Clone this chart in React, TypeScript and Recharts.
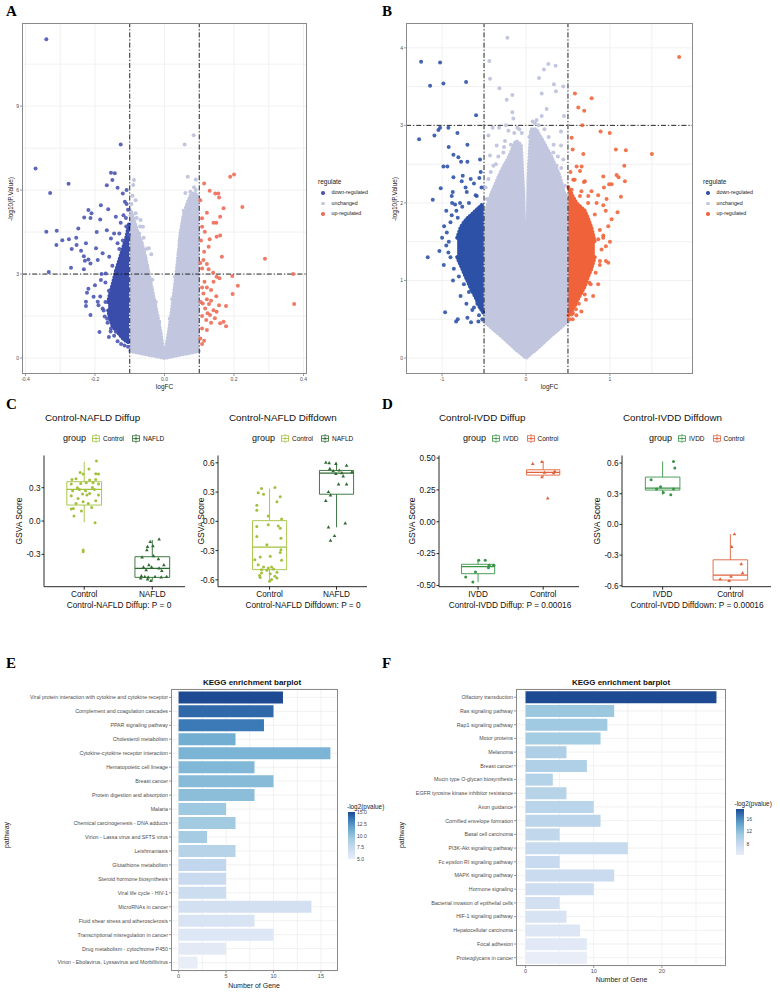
import React from 'react';
import {
  ComposedChart, BarChart, Bar, Area, Scatter, XAxis, YAxis,
  CartesianGrid, ReferenceLine, ReferenceArea, Cell,
} from 'recharts';

const SANS = '"Liberation Sans", Arial, Helvetica, sans-serif';
const SERIF = '"Liberation Serif", "Times New Roman", serif';

// ================= Panel A : volcano (logFC, -log10 p) =================
const aDown: number[][] = [
  [-0.34, 11.39], [-0.371, 6.77], [-0.329, 5.9], [-0.276, 6.23], [-0.34, 4.51], [-0.31, 4.55], [-0.311, 4.04],
  [-0.294, 4.21], [-0.275, 4.24], [-0.254, 4.3], [-0.248, 4.63], [-0.231, 5.02], [-0.219, 5.29], [-0.21, 5.17],
  [-0.213, 5.0], [-0.183, 5.46], [-0.162, 5.32], [-0.185, 4.95], [-0.166, 4.57], [-0.195, 4.5], [-0.267, 3.9],
  [-0.24, 3.83], [-0.253, 4.04], [-0.226, 4.1], [-0.232, 3.64], [-0.219, 3.52], [-0.229, 3.48], [-0.269, 3.23],
  [-0.333, 3.07], [-0.232, 3.17], [-0.213, 3.38], [-0.197, 3.92], [-0.192, 3.5], [-0.154, 4.27], [-0.145, 4.45],
  [-0.13, 4.45], [-0.126, 7.63], [-0.154, 6.62], [-0.143, 6.6], [-0.166, 6.17], [-0.15, 6.36], [-0.135, 6.08],
  [-0.109, 6.0], [-0.12, 5.88], [-0.114, 5.58], [-0.109, 5.5], [-0.14, 5.05], [-0.126, 4.83], [-0.111, 5.0],
  [-0.183, 2.79], [-0.181, 3.0], [-0.219, 2.48], [-0.223, 2.33], [-0.226, 2.01], [-0.226, 1.86], [-0.213, 1.54],
  [-0.204, 2.19], [-0.192, 2.01], [-0.19, 1.89], [-0.178, 1.77], [-0.187, 0.93], [-0.164, 1.26], [-0.172, 1.48],
  [-0.154, 1.06], [-0.14, 0.94], [-0.169, 3.02], [-0.159, 3.62], [-0.178, 3.74], [-0.16, 2.4], [-0.17, 2.0],
  [-0.165, 1.4], [-0.155, 0.95], [-0.145, 0.8], [-0.135, 0.6], [-0.125, 0.5], [-0.115, 0.45], [-0.105, 0.4],
  [-0.13, 3.9], [-0.12, 4.2], [-0.11, 4.7], [-0.15, 3.3], [-0.17, 2.7], [-0.175, 1.7], [-0.105, 5.3],
  [-0.118, 5.1], [-0.102, 4.4], [-0.2, 2.6], [-0.185, 2.2], [-0.16, 0.75], [-0.135, 4.1],
];
const aUp: number[][] = [
  [0.189, 6.48], [0.2, 6.56], [0.114, 6.24], [0.13, 5.98], [0.146, 5.88], [0.155, 5.88], [0.157, 5.74],
  [0.103, 5.64], [0.224, 5.4], [0.17, 5.35], [0.122, 5.19], [0.16, 5.05], [0.108, 4.99], [0.141, 4.83],
  [0.149, 4.83], [0.108, 4.69], [0.116, 4.51], [0.15, 4.33], [0.16, 4.38], [0.13, 4.24], [0.127, 3.98],
  [0.114, 3.8], [0.165, 3.62], [0.289, 3.55], [0.112, 3.5], [0.122, 3.36], [0.108, 3.2], [0.127, 3.17],
  [0.14, 3.05], [0.37, 3.0], [0.15, 2.9], [0.158, 2.85], [0.195, 2.93], [0.115, 2.73], [0.141, 2.73],
  [0.211, 2.58], [0.108, 2.52], [0.122, 2.52], [0.134, 2.43], [0.112, 2.31], [0.196, 2.29], [0.149, 2.21],
  [0.122, 2.1], [0.134, 2.05], [0.11, 1.95], [0.128, 1.93], [0.373, 1.93], [0.157, 1.89], [0.177, 1.86],
  [0.117, 1.77], [0.141, 1.71], [0.15, 1.65], [0.124, 1.6], [0.108, 1.5], [0.131, 1.54], [0.145, 1.42],
  [0.12, 1.36], [0.134, 1.26], [0.16, 1.24], [0.17, 1.3], [0.177, 1.14], [0.108, 1.06], [0.122, 1.0],
  [0.103, 0.7], [0.114, 0.62], [0.108, 0.5], [0.104, 2.0], [0.105, 4.2], [0.103, 3.4],
];
const aFlat: number[][] = [
  [0.084, 7.96], [0.058, 7.63], [0.067, 6.48], [0.09, 6.38], [-0.088, 6.36], [-0.09, 6.18], [0.074, 5.94],
  [0.079, 5.76], [-0.083, 5.64], [-0.069, 4.93], [-0.062, 4.69], [-0.045, 3.92], [-0.038, 3.71], [-0.056, 3.62],
  [0.055, 5.26], [0.053, 4.93], [0.049, 4.57], [-0.083, 5.17], [-0.073, 4.45], [0.044, 4.21], [0.041, 3.74],
  [0.098, 5.64], [0.093, 5.17], [-0.095, 5.5], [-0.092, 5.8], [0.09, 6.0], [0.085, 6.1], [0.06, 5.9],
  [-0.098, 5.1], [-0.05, 3.3], [0.07, 5.3], [-0.08, 5.0], [-0.07, 4.7], [-0.06, 4.3], [-0.052, 3.9],
  [-0.035, 2.8], [0.03, 2.9], [0.05, 4.0], [0.062, 5.2], [0.078, 5.6], [0.088, 5.5], [-0.025, 2.0],
  [0.022, 2.1], [-0.015, 1.3], [0.015, 1.4],
];
// dense "unchanged" cloud outline: [logFC, lower, upper]
const aCloud: number[][] = [
  [-0.1, 0.25, 5.3], [-0.095, 0.24, 5.2], [-0.085, 0.21, 4.8], [-0.075, 0.19, 4.4], [-0.065, 0.16, 4.1],
  [-0.055, 0.14, 3.6], [-0.045, 0.11, 3.0], [-0.03, 0.08, 2.1], [-0.02, 0.05, 1.5], [-0.011, 0.03, 0.9],
  [-0.005, 0.01, 0.35], [0, 0, 0], [0.005, 0.01, 0.4], [0.012, 0.03, 0.9], [0.02, 0.05, 1.6], [0.027, 0.07, 2.3],
  [0.034, 0.09, 3.0], [0.04, 0.1, 3.7], [0.046, 0.12, 4.45], [0.055, 0.14, 5.1], [0.065, 0.16, 5.5],
  [0.075, 0.19, 5.8], [0.085, 0.21, 5.9], [0.095, 0.24, 5.8], [0.1, 0.25, 5.6],
];
const aDownBand: number[][] = [
  [-0.162, 1.7, 2.0], [-0.157, 1.4, 2.3], [-0.15, 1.15, 2.6], [-0.14, 1.0, 3.1], [-0.13, 0.85, 3.5],
  [-0.12, 0.7, 3.9], [-0.11, 0.6, 4.3], [-0.102, 0.55, 4.8],
];
const aUpBand: number[][] = [];

// ================= Panel B : volcano =================
const bDown: number[][] = [
  [-1.25, 3.82], [-1.024, 3.81], [-1.143, 3.51], [-0.984, 3.54], [-0.714, 3.56], [-0.595, 3.13], [-1.274, 2.82],
  [-1.091, 2.87], [-1.044, 2.94], [-1.024, 2.97], [-0.925, 2.97], [-0.817, 2.9], [-0.698, 2.75], [-0.921, 2.72],
  [-0.865, 2.62], [-0.806, 2.59], [-0.774, 2.53], [-0.698, 2.53], [-0.548, 2.56], [-0.984, 2.47], [-0.937, 2.47],
  [-0.865, 2.33], [-0.754, 2.35], [-0.659, 2.31], [-0.556, 2.32], [-0.766, 2.28], [-1.016, 2.19], [-0.873, 2.14],
  [-0.885, 2.09], [-0.706, 2.14], [-1.111, 2.04], [-0.587, 2.09], [-0.845, 1.98], [-0.786, 2.0], [-0.885, 1.84],
  [-0.813, 1.81], [-0.976, 1.7], [-0.944, 1.62], [-1.032, 1.38], [-1.171, 1.3], [-0.925, 1.36], [-0.964, 0.59],
  [-0.833, 0.47], [-0.813, 0.5], [-0.698, 0.52], [-0.655, 0.46], [-0.567, 0.47], [-0.52, 0.5], [-0.56, 0.55],
  [-0.62, 0.65], [-0.68, 0.85], [-0.74, 0.95], [-0.8, 1.05], [-0.86, 1.15], [-0.9, 1.3], [-0.92, 1.5],
  [-0.9, 1.75], [-0.83, 1.9], [-0.76, 1.95], [-0.68, 2.0], [-0.6, 2.1], [-0.53, 2.2], [-0.95, 1.45],
  [-0.87, 1.0], [-0.78, 0.8], [-0.71, 0.7], [-0.64, 0.62], [-0.58, 0.7], [-0.95, 1.9], [-0.88, 2.0],
  [-0.72, 2.2], [-0.62, 2.25], [-0.54, 2.4], [-1.0, 1.55], [-0.98, 1.2],
];
const bUp: number[][] = [
  [1.825, 3.88], [0.583, 3.41], [0.782, 3.35], [0.623, 3.23], [0.694, 3.19], [0.671, 3.0], [0.889, 2.92],
  [0.998, 2.9], [0.544, 2.84], [0.556, 2.69], [1.071, 2.69], [1.19, 2.68], [1.5, 2.63], [0.683, 2.63],
  [0.603, 2.47], [0.643, 2.41], [0.663, 2.47], [1.171, 2.48], [0.921, 2.34], [1.079, 2.36], [1.103, 2.33],
  [1.179, 2.28], [0.563, 2.3], [0.69, 2.27], [0.702, 2.28], [1.02, 2.24], [0.99, 2.24], [0.929, 2.2],
  [0.544, 2.17], [0.742, 2.09], [0.643, 2.09], [1.131, 2.08], [0.96, 2.05], [0.841, 2.0], [1.091, 1.88],
  [0.921, 1.97], [1.02, 1.79], [0.98, 1.7], [0.952, 1.44], [0.881, 1.25], [0.952, 1.25], [0.98, 1.23],
  [0.754, 0.97], [0.714, 0.75], [0.583, 0.68], [0.544, 0.56], [0.595, 0.63], [0.556, 0.5], [0.921, 1.58],
  [0.861, 1.53], [0.52, 0.5], [0.56, 0.58], [0.63, 0.7], [0.7, 0.82], [0.77, 0.95], [0.83, 1.1], [0.88, 1.2],
  [0.9, 1.4], [0.88, 1.65], [0.82, 1.85], [0.74, 2.0], [0.66, 2.15], [0.58, 2.3], [0.53, 2.4], [0.92, 1.55],
  [0.86, 0.95], [0.8, 0.8], [0.66, 0.6], [0.6, 0.55], [0.78, 2.15], [0.86, 2.1], [0.95, 1.9], [1.0, 1.5],
];
const bFlat: number[][] = [
  [-0.222, 4.13], [-0.437, 3.83], [-0.429, 3.6], [-0.317, 3.48], [-0.23, 3.33], [-0.163, 3.39], [0.266, 3.79],
  [0.353, 3.77], [0.214, 3.72], [0.155, 3.61], [0.187, 3.41], [0.333, 3.53], [0.444, 3.5], [0.357, 3.44],
  [0.246, 3.21], [-0.163, 3.17], [-0.151, 3.09], [0.452, 3.12], [0.187, 3.12], [0.127, 3.07], [0.107, 3.03],
  [-0.397, 2.97], [-0.321, 2.97], [-0.238, 3.0], [-0.103, 2.97], [0.417, 2.92], [-0.448, 2.87], [-0.21, 2.93],
  [-0.349, 2.74], [-0.262, 2.72], [0.417, 2.74], [0.325, 2.65], [-0.429, 2.61], [-0.389, 2.48], [0.365, 2.48],
  [0.444, 2.56], [-0.448, 2.31], [-0.468, 2.05], [0.464, 2.22], [0.437, 2.0], [0.464, 1.88], [-0.468, 1.88],
  [-0.48, 2.2], [-0.42, 2.4], [-0.36, 2.5], [-0.33, 2.6], [-0.27, 2.65], [-0.18, 2.75], [-0.14, 2.9],
  [-0.08, 2.95], [-0.05, 2.9], [0.04, 2.85], [0.08, 3.05], [0.15, 3.0], [0.22, 2.95], [0.27, 2.85],
  [0.33, 2.75], [0.38, 2.6], [0.42, 2.45], [0.48, 2.1], [-0.25, 2.8], [0.1, 2.7], [-0.1, 2.6],
];
const bCloud: number[][] = [
  [-0.51, 0.48, 1.7], [-0.5, 0.47, 1.8], [-0.45, 0.43, 2.0], [-0.4, 0.38, 2.15], [-0.3, 0.29, 2.4],
  [-0.2, 0.19, 2.6], [-0.12, 0.11, 2.8], [-0.06, 0.06, 2.75], [-0.03, 0.03, 2.1], [-0.012, 0.012, 1.2],
  [0, 0, 0.8], [0.012, 0.012, 1.4], [0.03, 0.03, 2.4], [0.06, 0.06, 2.95], [0.12, 0.11, 2.95], [0.2, 0.19, 2.8],
  [0.3, 0.29, 2.6], [0.4, 0.38, 2.35], [0.45, 0.43, 2.15], [0.5, 0.47, 1.9], [0.51, 0.48, 1.8],
];
const bDownBand: number[][] = [
  [-0.82, 1.3, 1.55], [-0.78, 1.2, 1.68], [-0.74, 1.1, 1.75], [-0.7, 1.0, 1.8], [-0.65, 0.88, 1.85],
  [-0.6, 0.78, 1.9], [-0.55, 0.65, 1.95], [-0.505, 0.58, 2.0],
];
const bUpBand: number[][] = [
  [0.505, 0.55, 2.2], [0.55, 0.62, 2.1], [0.6, 0.72, 2.0], [0.65, 0.82, 1.95], [0.7, 0.92, 1.9],
  [0.74, 1.05, 1.8], [0.78, 1.15, 1.68], [0.82, 1.3, 1.5],
];
const regulateLabels = ['down-regulated', 'unchanged', 'up-regulated'];

// ================= Panels C / D : GSVA boxplots =================
// stats rows: [lower whisker, Q1, median, Q3, upper whisker]
const cGroups = ['Control', 'NAFLD'];
const cUpStats: number[][] = [[-0.009, 0.144, 0.285, 0.354, 0.534], [-0.537, -0.507, -0.426, -0.321, -0.171]];
const cUpCtrl: number[][] = [
  [1.18, 0.54], [1.07, 0.468], [0.94, 0.438], [0.985, 0.423], [1.17, 0.426], [1.21, 0.423], [0.82, 0.375],
  [0.88, 0.381], [1.08, 0.369], [1.17, 0.375], [0.81, 0.333], [0.95, 0.339], [1.03, 0.345], [1.13, 0.345],
  [1.21, 0.333], [0.9, 0.3], [0.93, 0.285], [1.12, 0.303], [0.83, 0.273], [1.02, 0.273], [1.15, 0.285],
  [1.08, 0.249], [0.975, 0.243], [0.81, 0.228], [1.04, 0.234], [1.21, 0.234], [0.91, 0.204], [1.17, 0.183],
  [0.985, 0.174], [0.88, 0.159], [1.06, 0.159], [0.84, 0.114], [0.81, 0.108], [1.11, 0.123], [0.96, 0.09],
  [0.85, 0.045], [1.16, -0.015], [0.985, -0.261], [0.985, -0.276],
];
const cUpNafld: number[][] = [
  [2.1, -0.165], [1.97, -0.186], [1.93, -0.231], [1.92, -0.261], [2.01, -0.225], [1.85, -0.327], [2.02, -0.315],
  [2.09, -0.342], [1.95, -0.396], [2.17, -0.396], [1.87, -0.417], [1.99, -0.417], [2.1, -0.426], [1.91, -0.441],
  [2.14, -0.447], [1.84, -0.495], [1.89, -0.501], [1.94, -0.507], [2.04, -0.501], [2.13, -0.507], [2.21, -0.501],
  [1.93, -0.525], [1.98, -0.537], [1.83, -0.516],
];
const cDownStats: number[][] = [[-0.614, -0.495, -0.264, 0.007, 0.336], [-0.061, 0.278, 0.495, 0.522, 0.603]];
const cDownCtrl: number[][] = [
  [0.88, 0.336], [1.08, 0.346], [0.83, 0.292], [0.91, 0.278], [1.16, 0.251], [1.11, 0.2], [0.81, 0.166],
  [0.81, 0.115], [0.98, 0.054], [1.18, 0.024], [0.81, -0.054], [0.98, -0.034], [1.13, -0.047], [1.16, -0.071],
  [0.81, -0.156], [1.17, -0.173], [0.96, -0.241], [1.17, -0.292], [1.16, -0.319], [0.78, -0.393], [0.86, -0.366],
  [1.01, -0.359], [1.18, -0.4], [0.83, -0.444], [0.91, -0.468], [0.98, -0.478], [1.03, -0.468], [1.06, -0.488],
  [0.88, -0.495], [0.96, -0.502], [1.11, -0.522], [1.01, -0.536], [0.88, -0.529], [0.85, -0.556], [1.08, -0.563],
  [1.11, -0.58], [1.03, -0.597], [0.86, -0.576], [1.0, -0.614],
];
const cDownNafld: number[][] = [
  [1.84, 0.603], [1.89, 0.597], [1.99, 0.59], [2.15, 0.573], [1.9, 0.539], [2.04, 0.522], [1.95, 0.515],
  [2.08, 0.495], [2.23, 0.505], [1.99, 0.488], [2.1, 0.461], [2.03, 0.38], [2.15, 0.38], [1.88, 0.302],
  [1.91, 0.268], [1.84, 0.21], [2.13, -0.02], [1.88, -0.061], [1.97, -0.149], [1.91, -0.197],
];
const dGroups = ['IVDD', 'Control'];
const dUpStats: number[][] = [[-0.474, -0.408, -0.353, -0.334, -0.303], [0.35, 0.366, 0.387, 0.408, 0.474]];
const dUpIvdd: number[][] = [
  [1.01, -0.303], [1.11, -0.303], [1.17, -0.342], [1.16, -0.361], [1.24, -0.342], [0.96, -0.395], [0.81, -0.434],
  [0.92, -0.474],
];
const dUpCtrl: number[][] = [[1.84, 0.455], [1.98, 0.471], [2.02, 0.387], [2.16, 0.382], [1.98, 0.35], [2.18, 0.395], [2.07, 0.184]];
const dDownStats: number[][] = [[0.29, 0.336, 0.355, 0.463, 0.616], [-0.551, -0.544, -0.496, -0.346, -0.095]];
const dDownIvdd: number[][] = [[1.16, 0.616], [1.18, 0.551], [0.83, 0.437], [0.97, 0.368], [0.91, 0.346], [1.01, 0.313], [1.12, 0.29], [1.16, 0.346]];
const dDownCtrl: number[][] = [[2.06, -0.095], [2.02, -0.218], [2.16, -0.388], [2.18, -0.476], [2.01, -0.509], [1.85, -0.535], [1.98, -0.551]];

// ================= Panels E / F : KEGG barplots =================
const ePathways = [
  'Viral protein interaction with cytokine and cytokine receptor', 'Complement and coagulation cascades',
  'PPAR signaling pathway', 'Cholesterol metabolism', 'Cytokine-cytokine receptor interaction',
  'Hematopoietic cell lineage', 'Breast cancer', 'Protein digestion and absorption', 'Malaria',
  'Chemical carcinogenesis - DNA adducts', 'Virion - Lassa virus and SFTS virus', 'Leishmaniasis',
  'Glutathione metabolism', 'Steroid hormone biosynthesis', 'Viral life cycle - HIV-1', 'MicroRNAs in cancer',
  'Fluid shear stress and atherosclerosis', 'Transcriptional misregulation in cancer',
  'Drug metabolism - cytochrome P450', 'Virion - Ebolavirus, Lyssavirus and Morbillivirus',
];
const eCounts = [11, 10, 9, 6, 16, 8, 10, 8, 5, 6, 3, 6, 5, 5, 5, 14, 8, 10, 5, 2];
const eLog2p = [15.0, 14.0, 13.4, 11.2, 10.8, 10.6, 10.4, 10.2, 9.5, 9.3, 9.1, 8.3, 7.7, 7.2, 7.0, 6.6, 6.2, 5.8, 5.4, 5.0];
const eLegendTicks = [5, 7.5, 10, 12.5, 15];

const fPathways = [
  'Olfactory transduction', 'Ras signaling pathway', 'Rap1 signaling pathway', 'Motor proteins', 'Melanoma',
  'Breast cancer', 'Mucin type O-glycan biosynthesis', 'EGFR tyrosine kinase inhibitor resistance',
  'Axon guidance', 'Cornified envelope formation', 'Basal cell carcinoma', 'PI3K-Akt signaling pathway',
  'Fc epsilon RI signaling pathway', 'MAPK signaling pathway', 'Hormone signaling',
  'Bacterial invasion of epithelial cells', 'HIF-1 signaling pathway', 'Hepatocellular carcinoma',
  'Focal adhesion', 'Proteoglycans in cancer',
];
const fCounts = [28, 13, 12, 11, 6, 9, 4, 6, 10, 11, 5, 15, 5, 13, 10, 5, 6, 8, 9, 9];
const fLog2p = [19.1, 11.2, 10.9, 10.6, 9.9, 9.8, 9.5, 9.3, 9.0, 8.9, 8.6, 8.0, 7.9, 7.7, 7.3, 6.8, 6.3, 5.7, 5.2, 4.5];
const fLegendTicks = [8, 12, 16];

// ================= helpers =================
const GRAD: [number, number[]][] = [
  [0, [232, 237, 248]], [0.25, [198, 217, 238]], [0.45, [158, 201, 224]],
  [0.65, [106, 169, 207]], [0.85, [58, 120, 182]], [1, [29, 74, 147]],
];
function gradColor(t: number) {
  const u = Math.max(0, Math.min(1, t));
  for (let i = 1; i < GRAD.length; i++) {
    if (u <= GRAD[i][0]) {
      const [t0, c0] = GRAD[i - 1];
      const [t1, c1] = GRAD[i];
      const k = (u - t0) / (t1 - t0);
      const c = c0.map((v, j) => Math.round(v + (c1[j] - v) * k));
      return `rgb(${c[0]},${c[1]},${c[2]})`;
    }
  }
  return 'rgb(29,74,147)';
}
const gradCss = `linear-gradient(to top, ${GRAD.map(([t, c]) => `rgb(${c.join(',')}) ${t * 100}%`).join(', ')})`;

const toPts = (a: number[][]) => a.map(([x, y]) => ({ x, y }));
const toBand = (a: number[][]) => a.map(([x, lo, hi]) => ({ x, r: [lo, hi] }));

function Txt(props: any) {
  const { x, y, size, anchor = 'start', weight = 400, color = '#000', rotate = 0, family = SANS, children } = props;
  const tx = anchor === 'start' ? '0' : anchor === 'middle' ? '-50%' : '-100%';
  return (
    <div
      style={{
        position: 'absolute', left: x, top: y, fontSize: size, fontFamily: family, fontWeight: weight, color,
        whiteSpace: 'nowrap', lineHeight: 1, transform: `translate(${tx}, -50%)${rotate ? ` rotate(${rotate}deg)` : ''}`,
      }}
    >
      {children}
    </div>
  );
}

const dotShape = (color: string, r: number, op: number) => (p: any) =>
  p.cx == null ? <g /> : <circle cx={p.cx} cy={p.cy} r={r} fill={color} fillOpacity={op} />;
const triShape = (color: string) => (p: any) =>
  p.cx == null ? <g /> : (
    <path d={`M${p.cx},${p.cy - 2} L${p.cx + 1.8},${p.cy + 1.2} L${p.cx - 1.8},${p.cy + 1.2} Z`} fill={color} />
  );

// ================= Volcano =================
function Volcano(p: any) {
  const tickStyle = { fontSize: 5, fill: '#4d4d4d', fontFamily: SANS };
  const dash = '5 2 1.2 2';
  // scalloped outline so the dense cloud edges look like overlapping points
  const edge = { strokeWidth: 4, strokeDasharray: '0.01 3.2', strokeLinecap: 'round' as const };
  return (
    <div style={{ position: 'absolute', left: p.left, top: 0 }}>
      <ComposedChart width={p.width} height={395} margin={{ top: 23, right: 3, left: 0, bottom: 0 }}>
        <CartesianGrid stroke="#ebebeb" strokeWidth={0.7} verticalValues={p.xGrid} horizontalValues={p.yGrid} />
        <XAxis type="number" dataKey="x" domain={p.xDomain} allowDataOverflow ticks={p.xTicks} interval={0}
          tickFormatter={p.xFmt} height={21} axisLine={false} tickLine={{ stroke: '#555', strokeWidth: 0.6 }}
          tickSize={2} tickMargin={1} tick={tickStyle} />
        <YAxis type="number" dataKey="y" domain={p.yDomain} allowDataOverflow ticks={p.yTicks} interval={0}
          width={p.yAxisW} axisLine={false} tickLine={{ stroke: '#555', strokeWidth: 0.6 }}
          tickSize={2} tickMargin={1} tick={tickStyle} />
        <Area data={toBand(p.cloud)} dataKey="r" type="linear" stroke={p.col.flat} {...edge} fill={p.col.flat}
          fillOpacity={1} isAnimationActive={false} dot={false} activeDot={false} />
        {p.downBand.length > 0 && (
          <Area data={toBand(p.downBand)} dataKey="r" type="linear" stroke={p.col.downDense} {...edge}
            fill={p.col.downDense} fillOpacity={1} isAnimationActive={false} dot={false} activeDot={false} />
        )}
        {p.upBand.length > 0 && (
          <Area data={toBand(p.upBand)} dataKey="r" type="linear" stroke={p.col.upDense} {...edge}
            fill={p.col.upDense} fillOpacity={1} isAnimationActive={false} dot={false} activeDot={false} />
        )}
        <Scatter data={toPts(p.flat)} shape={dotShape(p.col.flat, 2, 1)} isAnimationActive={false} />
        <Scatter data={toPts(p.down)} shape={dotShape(p.col.down, 2, 0.9)} isAnimationActive={false} />
        <Scatter data={toPts(p.up)} shape={dotShape(p.col.up, 2, 0.9)} isAnimationActive={false} />
        {p.vLines.map((v: number) => (
          <ReferenceLine key={v} x={v} stroke="#111" strokeWidth={0.9} strokeDasharray={dash} />
        ))}
        <ReferenceLine y={p.hLine} stroke="#111" strokeWidth={0.9} strokeDasharray={dash} />
      </ComposedChart>
    </div>
  );
}

function VolcanoDecor(p: any) {
  const cols = [p.col.down, p.col.flat, p.col.up];
  return (
    <>
      <div style={{ position: 'absolute', left: p.plotLeft, top: 23, width: p.plotRight - p.plotLeft, height: 351,
        border: '1px solid #8a8a8a', boxSizing: 'border-box' }} />
      <Txt x={(p.plotLeft + p.plotRight) / 2} y={387} size={6.5} anchor="middle" color="#222">logFC</Txt>
      <Txt x={p.yLabelX} y={198.5} size={6.5} anchor="middle" rotate={-90} color="#222">-log10(P.Value)</Txt>
      <Txt x={p.legX} y={182} size={6.5} color="#222">regulate</Txt>
      {regulateLabels.map((lab, i) => (
        <React.Fragment key={lab}>
          <div style={{ position: 'absolute', left: p.legX + 3, top: 191 + i * 10.7, width: 3.6, height: 3.6,
            borderRadius: '50%', background: cols[i] }} />
          <Txt x={p.legX + 13.5} y={192.8 + i * 10.7} size={5.3} color="#222">{lab}</Txt>
        </React.Fragment>
      ))}
    </>
  );
}

// ================= Boxplot =================
const BOX_HALF = 0.255;
function BoxPlot(p: any) {
  const yAxisW = 40;
  const w = yAxisW + (p.plotRight - p.plotLeft) + 5;
  const tick = { fontSize: 8.2, fill: '#111', fontFamily: SANS };
  const axisStyle = { stroke: '#111', strokeWidth: 0.9 };
  return (
    <div style={{ position: 'absolute', left: p.plotLeft - yAxisW, top: 440 }}>
      <ComposedChart width={w} height={177} margin={{ top: 15.5, right: 5, left: 0, bottom: 0 }}>
        <XAxis type="number" dataKey="x" domain={p.xDomain} allowDataOverflow ticks={[1, 2]} interval={0}
          tickFormatter={(v: number) => p.groups[Math.round(v) - 1]} height={30.3} axisLine={axisStyle}
          tickLine={axisStyle} tickSize={3} tickMargin={1} tick={tick} />
        <YAxis type="number" dataKey="y" domain={p.yDomain} allowDataOverflow ticks={p.yTicks} interval={0}
          tickFormatter={(v: number) => v.toFixed(p.yDigits)} width={yAxisW} axisLine={axisStyle}
          tickLine={axisStyle} tickSize={2.5} tickMargin={1} tick={tick} />
        {p.stats.map((s: number[], i: number) => {
          const pos = i + 1;
          const c = p.colors[i];
          return [
            <ReferenceArea key={`b${i}`} x1={pos - BOX_HALF} x2={pos + BOX_HALF} y1={s[1]} y2={s[3]}
              fill="#ffffff" fillOpacity={0} stroke={c} strokeWidth={0.9} ifOverflow="visible" />,
            <ReferenceLine key={`m${i}`} segment={[{ x: pos - BOX_HALF, y: s[2] }, { x: pos + BOX_HALF, y: s[2] }]}
              stroke={c} strokeWidth={1.2} ifOverflow="visible" />,
            <ReferenceLine key={`u${i}`} segment={[{ x: pos, y: s[3] }, { x: pos, y: s[4] }]}
              stroke={c} strokeWidth={0.9} ifOverflow="visible" />,
            <ReferenceLine key={`l${i}`} segment={[{ x: pos, y: s[0] }, { x: pos, y: s[1] }]}
              stroke={c} strokeWidth={0.9} ifOverflow="visible" />,
          ];
        })}
        {p.pts.map((arr: number[][], i: number) => (
          <Scatter key={`s${i}`} data={toPts(arr)} isAnimationActive={false}
            shape={p.shapes[i] === 'tri' ? triShape(p.colors[i]) : dotShape(p.colors[i], 1.5, 1)} />
        ))}
      </ComposedChart>
    </div>
  );
}

function LegendKey({ color, shape }: any) {
  return (
    <svg width={8} height={9} style={{ display: 'block' }}>
      <line x1={4} y1={0} x2={4} y2={9} stroke={color} strokeWidth={0.8} />
      <rect x={0.5} y={1.8} width={7} height={5.4} fill="#fff" stroke={color} strokeWidth={0.8} />
      <line x1={0.5} y1={4.5} x2={7.5} y2={4.5} stroke={color} strokeWidth={0.8} />
      {shape === 'tri'
        ? <path d="M4,2.6 L5.5,5.4 L2.5,5.4 Z" fill={color} />
        : <circle cx={4} cy={4.5} r={1.1} fill={color} />}
    </svg>
  );
}

function BoxDecor(p: any) {
  return (
    <>
      <Txt x={p.titleX} y={418} size={9.8} color="#111">{p.title}</Txt>
      <div style={{ position: 'absolute', left: p.legX, top: 438, transform: 'translateY(-50%)', display: 'flex',
        alignItems: 'center', fontFamily: SANS, whiteSpace: 'nowrap', color: '#111' }}>
        <span style={{ fontSize: 9, marginRight: 6 }}>group</span>
        {p.groups.map((g: string, i: number) => (
          <React.Fragment key={g}>
            <LegendKey color={p.colors[i]} shape={p.shapes[i]} />
            <span style={{ fontSize: 6.5, marginLeft: 3, marginRight: 8 }}>{g}</span>
          </React.Fragment>
        ))}
      </div>
      <Txt x={p.yLabelX} y={521} size={8.5} anchor="middle" rotate={-90} color="#111">GSVA Score</Txt>
      <Txt x={p.captionX} y={605} size={8.3} anchor="middle" color="#111">{p.caption}</Txt>
    </>
  );
}

// ================= KEGG barplot =================
const PathTick = (props: any) => {
  const { x, y, payload } = props;
  return (
    <text x={x} y={y} dy="0.35em" textAnchor="end" fontSize={5.3} fill="#4d4d4d" fontFamily={SANS}>
      {payload.value}
    </text>
  );
};

function Kegg(p: any) {
  const data = p.names.map((n: string, i: number) => ({ name: n, count: p.counts[i], score: p.scores[i] }));
  const lo = Math.min(...p.scores);
  const hi = Math.max(...p.scores);
  const H = p.plotBottom - 689;
  const cbH = p.cbBottom - p.cbTop;
  return (
    <>
      <div style={{ position: 'absolute', left: p.left, top: 680 }}>
        <BarChart layout="vertical" width={p.plotRight - p.left + 7} height={9 + H + 19} data={data}
          margin={{ top: 9, right: 7, left: 0, bottom: 1 }} barCategoryGap="7%">
          <CartesianGrid stroke="#ebebeb" strokeWidth={0.7} verticalValues={p.xGrid} />
          <XAxis type="number" domain={p.xDomain} allowDataOverflow ticks={p.xTicks} interval={0} height={18}
            axisLine={false} tickLine={{ stroke: '#555', strokeWidth: 0.6 }} tickSize={2} tickMargin={1}
            tick={{ fontSize: 5.5, fill: '#4d4d4d', fontFamily: SANS }} />
          <YAxis type="category" dataKey="name" width={p.plotLeft - p.left} padding={{ top: 1.4, bottom: 1.4 }}
            axisLine={false} tickLine={{ stroke: '#555', strokeWidth: 0.6 }} tickSize={2} tickMargin={1}
            interval={0} tick={PathTick} />
          <Bar dataKey="count" isAnimationActive={false}>
            {data.map((d: any, i: number) => <Cell key={i} fill={gradColor((d.score - lo) / (hi - lo))} />)}
          </Bar>
        </BarChart>
      </div>
      <div style={{ position: 'absolute', left: p.plotLeft, top: 689, width: p.plotRight - p.plotLeft, height: H,
        border: '1px solid #8a8a8a', boxSizing: 'border-box' }} />
      <Txt x={p.titleX} y={683} size={8} weight={700} anchor="middle" color="#111">KEGG enrichment barplot</Txt>
      <Txt x={p.xLabelX} y={p.xLabelY} size={7} anchor="middle" color="#222">Number of Gene</Txt>
      <Txt x={p.yLabelX} y={835} size={7} anchor="middle" rotate={-90} color="#222">pathway</Txt>
      <Txt x={p.cbLeft - 1} y={p.cbTop - 5} size={6.4} color="#222">-log2(pvalue)</Txt>
      <div style={{ position: 'absolute', left: p.cbLeft, top: p.cbTop, width: p.cbW, height: cbH, background: gradCss }} />
      {p.legendTicks.map((v: number) => (
        <Txt key={v} x={p.cbLeft + p.cbW + 2.5} y={p.cbBottom - ((v - lo) / (hi - lo)) * cbH} size={5}
          color="#444">{p.tickFmt(v)}</Txt>
      ))}
    </>
  );
}

// ================= App =================
export default function App() {
  const volA = { down: '#4a56b4', up: '#ee6c57', flat: '#c2c7df', downDense: '#3a4dab', upDense: '#ec5f48' };
  const volB = { down: '#2f54a8', up: '#f1663c', flat: '#c2c7df', downDense: '#2c51a7', upDense: '#f0623a' };
  const cCols = ['#a2c13c', '#2e6b30'];
  const dCols = ['#3a9447', '#e0623c'];
  return (
    <div style={{ position: 'absolute', left: 0, top: 0, width: 780, height: 992, background: '#fff', overflow: 'hidden' }}>
      {/* Panel labels */}
      <Txt x={6} y={11} size={15} weight={700} family={SERIF}>A</Txt>
      <Txt x={382} y={11} size={15} weight={700} family={SERIF}>B</Txt>
      <Txt x={6} y={404} size={15} weight={700} family={SERIF}>C</Txt>
      <Txt x={382} y={404} size={15} weight={700} family={SERIF}>D</Txt>
      <Txt x={6} y={663} size={15} weight={700} family={SERIF}>E</Txt>
      <Txt x={382} y={663} size={15} weight={700} family={SERIF}>F</Txt>

      {/* A */}
      <Volcano left={0} width={310} yAxisW={22} xDomain={[-0.41, 0.41]} yDomain={[-0.57, 11.97]}
        xTicks={[-0.4, -0.2, 0, 0.2, 0.4]} yTicks={[0, 3, 6, 9]}
        xGrid={[-0.4, -0.3, -0.2, -0.1, 0, 0.1, 0.2, 0.3, 0.4]} yGrid={[0, 1.5, 3, 4.5, 6, 7.5, 9, 10.5]}
        vLines={[-0.1, 0.1]} hLine={3} xFmt={(v: number) => v.toFixed(1)}
        cloud={aCloud} downBand={aDownBand} upBand={aUpBand} down={aDown} up={aUp} flat={aFlat} col={volA} />
      <VolcanoDecor plotLeft={22} plotRight={307} yLabelX={11} legX={318} col={volA} />

      {/* B */}
      <Volcano left={386} width={310} yAxisW={20} xDomain={[-1.43, 1.99]} yDomain={[-0.206, 4.32]}
        xTicks={[-1, 0, 1]} yTicks={[0, 1, 2, 3, 4]}
        xGrid={[-1, -0.5, 0, 0.5, 1, 1.5]} yGrid={[0, 0.5, 1, 1.5, 2, 2.5, 3, 3.5, 4]}
        vLines={[-0.5, 0.5]} hLine={3} xFmt={(v: number) => String(v)}
        cloud={bCloud} downBand={bDownBand} upBand={bUpBand} down={bDown} up={bUp} flat={bFlat} col={volB} />
      <VolcanoDecor plotLeft={406} plotRight={693} yLabelX={395} legX={703} col={volB} />

      {/* C */}
      <BoxPlot plotLeft={44} plotRight={185} xDomain={[0.41, 2.48]} yDomain={[-0.591, 0.59]} yTicks={[-0.3, 0, 0.3]}
        yDigits={1} groups={cGroups} stats={cUpStats} pts={[cUpCtrl, cUpNafld]} colors={cCols} shapes={['dot', 'tri']} />
      <BoxDecor title="Control-NAFLD Diffup" titleX={45} legX={63} groups={cGroups} colors={cCols} shapes={['dot', 'tri']}
        yLabelX={19} captionX={119} caption="Control-NAFLD Diffup: P = 0" />
      <BoxPlot plotLeft={218} plotRight={367} xDomain={[0.23, 2.455]} yDomain={[-0.67, 0.675]}
        yTicks={[-0.6, -0.3, 0, 0.3, 0.6]} yDigits={1} groups={cGroups} stats={cDownStats}
        pts={[cDownCtrl, cDownNafld]} colors={cCols} shapes={['dot', 'tri']} />
      <BoxDecor title="Control-NAFLD Diffdown" titleX={229} legX={252} groups={cGroups} colors={cCols}
        shapes={['dot', 'tri']} yLabelX={201} captionX={303} caption="Control-NAFLD Diffdown: P = 0" />

      {/* D */}
      <BoxPlot plotLeft={439} plotRight={579} xDomain={[0.4, 2.55]} yDomain={[-0.51, 0.52]}
        yTicks={[-0.5, -0.25, 0, 0.25, 0.5]} yDigits={2} groups={dGroups} stats={dUpStats}
        pts={[dUpIvdd, dUpCtrl]} colors={dCols} shapes={['dot', 'tri']} />
      <BoxDecor title="Control-IVDD Diffup" titleX={439} legX={463} groups={dGroups} colors={dCols}
        shapes={['dot', 'tri']} yLabelX={412} captionX={510} caption="Control-IVDD Diffup: P = 0.00016" />
      <BoxPlot plotLeft={622} plotRight={771} xDomain={[0.4, 2.6]} yDomain={[-0.609, 0.674]}
        yTicks={[-0.6, -0.3, 0, 0.3, 0.6]} yDigits={1} groups={dGroups} stats={dDownStats}
        pts={[dDownIvdd, dDownCtrl]} colors={dCols} shapes={['dot', 'tri']} />
      <BoxDecor title="Control-IVDD Diffdown" titleX={623} legX={649} groups={dGroups} colors={dCols}
        shapes={['dot', 'tri']} yLabelX={597} captionX={697} caption="Control-IVDD Diffdown: P = 0.00016" />

      {/* E */}
      <Kegg left={0} plotLeft={171} plotRight={338} plotBottom={971} names={ePathways} counts={eCounts} scores={eLog2p}
        xDomain={[-0.8, 16.8]} xTicks={[0, 5, 10, 15]} xGrid={[0, 2.5, 5, 7.5, 10, 12.5, 15]}
        titleX={252} xLabelX={254} xLabelY={985} yLabelX={6}
        cbLeft={348} cbW={6.6} cbTop={812} cbBottom={859} legendTicks={eLegendTicks}
        tickFmt={(v: number) => v.toFixed(1)} />

      {/* F */}
      <Kegg left={390} plotLeft={516} plotRight={726} plotBottom={966} names={fPathways} counts={fCounts} scores={fLog2p}
        xDomain={[-1.4, 29.4]} xTicks={[0, 10, 20]} xGrid={[0, 5, 10, 15, 20, 25]}
        titleX={621} xLabelX={621.5} xLabelY={979} yLabelX={400.5}
        cbLeft={735.5} cbW={8.5} cbTop={809} cbBottom={855} legendTicks={fLegendTicks}
        tickFmt={(v: number) => String(v)} />
    </div>
  );
}
